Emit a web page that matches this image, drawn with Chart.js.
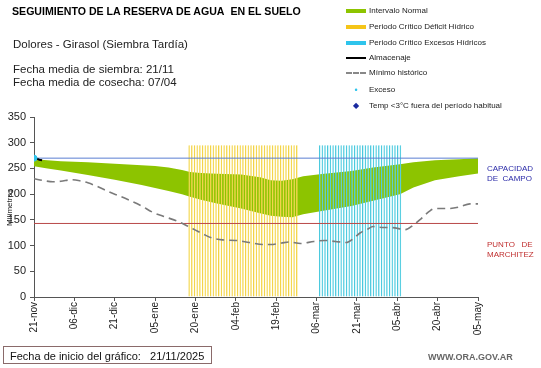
<!DOCTYPE html>
<html>
<head>
<meta charset="utf-8">
<script src="https://cdn.jsdelivr.net/npm/chart.js@4.4.1/dist/chart.umd.min.js"></script>
<style>
  html, body { margin: 0; padding: 0; background: #fff; }
  #wrap { position: relative; width: 541px; height: 368px; overflow: hidden; font-family: "Liberation Sans", Arial, sans-serif; }
  #c { position: absolute; left: 0; top: 0; }
  .t { position: absolute; white-space: nowrap; color: #111; }
  .lg { position: absolute; left: 346px; font-size: 8px; color: #222; white-space: nowrap; height: 12px; line-height: 12px; }
  .lg span.sw { display: inline-block; vertical-align: middle; width: 20px; margin-right: 3px; }
</style>
</head>
<body>
<div id="wrap">
  <canvas id="c" width="541" height="368"></canvas>
  <div class="t" style="left:12px; top:5px; font-size:10.6px; font-weight:bold; color:#000;">SEGUIMIENTO DE LA RESERVA DE AGUA&nbsp; EN EL SUELO</div>
  <div class="t" style="left:13px; top:38px; font-size:11.5px; color:#222;">Dolores - Girasol (Siembra Tardía)</div>
  <div class="t" style="left:13px; top:63px; font-size:11.5px; line-height:12.5px; color:#222;">Fecha media de siembra: 21/11<br>Fecha media de cosecha: 07/04</div>

  <div class="lg" style="top:5px;"><span class="sw" style="height:4px;background:#8DC400;"></span>Intervalo Normal</div>
  <div class="lg" style="top:21px;"><span class="sw" style="height:4px;background:#F5C518;"></span>Periodo Crítico Déficit Hídrico</div>
  <div class="lg" style="top:37px;"><span class="sw" style="height:4px;background:#2EC4EC;"></span>Periodo Crítico Excesos Hídricos</div>
  <div class="lg" style="top:52px;"><span class="sw" style="height:2px;background:#000;"></span>Almacenaje</div>
  <div class="lg" style="top:67px;"><span class="sw" style="height:0;border-top:2px dashed #888;"></span>Mínimo histórico</div>
  <div class="lg" style="top:84px;"><span class="sw" style="width:20px;text-align:center;color:#2EC4EC;font-size:9px;">•</span>Exceso</div>
  <div class="lg" style="top:100px;"><span class="sw" style="width:20px;text-align:center;color:#1A2AA0;font-size:8px;">◆</span>Temp &lt;3°C fuera del período habitual</div>

  <div class="t" style="left:5px; top:226px; font-size:8px; color:#222; transform:rotate(-90deg); transform-origin:left top;">Milímetros</div>

  <div class="t" style="left:487px; top:164px; font-size:8px; line-height:10px; color:#2A2AA8;">CAPACIDAD<br>DE&nbsp; CAMPO</div>
  <div class="t" style="left:487px; top:240px; font-size:8px; line-height:10px; color:#C03030;">PUNTO&nbsp;&nbsp; DE<br>MARCHITEZ</div>

  <div class="t" style="left:3px; top:346px; width:207px; height:18px; border:1px solid #8A6A6A; font-size:11px; line-height:18px; padding-left:6px; box-sizing:border-box; width:209px; color:#111;">Fecha de inicio del gráfico:&nbsp;&nbsp; 21/11/2025</div>
  <div class="t" style="left:428px; top:352px; font-size:9px; font-weight:bold; color:#666;">WWW.ORA.GOV.AR</div>
</div>
<script>
// ---- Data (days since 21-nov) ----
const tickLabels = ['21-nov','06-dic','21-dic','05-ene','20-ene','04-feb','19-feb','06-mar','21-mar','05-abr','20-abr','05-may'];
const bandDays  = [0,5,10,20,30,40,45,50,55,58,62,68,77,84,88,92,96,100,107,118,126,136,141,149,158,165];
const normalMax = [268,266,264,262,259,256,254.5,252,247,243,241,239.5,238,233,227,226,229,235,239,245,252,258,262,266,268,270];
const normalMin = [254,250,246,237,228,218,212,206,200,195,189,182,172,163,158,156,155,161,167,177,187,200,213,227,235,240];
const minDays = [0,4,7,10,14,17,20,24,28,32,36,40,44,48,53,57,60,63,66,70,75,80,85,88,92,95,99,104,108,112,116,119,121,124,126,130,133,138,141,144,147,149,154,158,162,165];
const minHist = [230,226,224,225,228,226,222,214,204,196,187,177,165,157,148,138,130,122,115,111,110,106,102,102,105,107,104,108,110,108,106,115,124,132,137,135,135,131,140,153,167,172,172,175,181,181];
const almDays = [0,1,2,3];
const almacenaje = [270,269,267,266];
const excesoDays = [0];
const exceso = [270];
const deficitPeriod = [58, 98];   // first and last day
const excesoPeriod = [106, 136];
const periodTop = 295;
const capacidadCampo = 270;
const puntoMarchitez = 143;
const xRange = [0, 165];

const pts = (xs, ys) => xs.map((x, i) => ({ x, y: ys[i] }));
const period = (r) => { const a = []; for (let d = r[0]; d <= r[1]; d++) a.push({ x: d, y: periodTop }); return a; };

const ctx = document.getElementById('c').getContext('2d');
new Chart(ctx, {
  type: 'line',
  data: {
    datasets: [
      { type: 'line', label: 'max', data: pts(bandDays, normalMax), borderWidth: 0, pointRadius: 0,
        backgroundColor: '#8DC400', fill: '+1', order: 10, tension: 0 },
      { type: 'line', label: 'min', data: pts(bandDays, normalMin), borderWidth: 0, pointRadius: 0,
        backgroundColor: 'transparent', fill: false, order: 10, tension: 0 },
      { type: 'bar', label: 'deficit', data: period(deficitPeriod), backgroundColor: 'rgba(252,238,150,0.35)',
        borderColor: '#F2D03C', borderWidth: { left: 1, right: 0, top: 0, bottom: 0 }, borderSkipped: false,
        barPercentage: 1, categoryPercentage: 1, order: 5 },
      { type: 'bar', label: 'excesos', data: period(excesoPeriod), backgroundColor: 'rgba(170,235,245,0.35)',
        borderColor: '#3CC4DA', borderWidth: { left: 1, right: 0, top: 0, bottom: 0 }, borderSkipped: false,
        barPercentage: 1, categoryPercentage: 1, order: 5 },
      { type: 'line', label: 'cc', data: pts(xRange, [capacidadCampo, capacidadCampo]), borderColor: '#5A7FD2',
        borderWidth: 1, pointRadius: 0, order: 3 },
      { type: 'line', label: 'pm', data: pts(xRange, [puntoMarchitez, puntoMarchitez]), borderColor: '#B84848',
        borderWidth: 1, pointRadius: 0, order: 3 },
      { type: 'line', label: 'Mínimo histórico', data: pts(minDays, minHist), borderColor: '#7A7A7A',
        borderWidth: 1.6, borderDash: [8, 5], pointRadius: 0, tension: 0.3, cubicInterpolationMode: 'monotone', order: 2 },
      { type: 'line', label: 'Almacenaje', data: pts(almDays, almacenaje), borderColor: '#000',
        borderWidth: 2, pointRadius: 0, order: 1 },
      { type: 'line', label: 'Exceso', data: pts(excesoDays, exceso), showLine: false, pointRadius: 3,
        pointBackgroundColor: '#2EC4EC', pointBorderColor: '#2EC4EC', order: 0 }
    ]
  },
  options: {
    responsive: false,
    animation: false,
    events: [],
    layout: { padding: { left: 0, top: 117, right: 63, bottom: 31 } },
    plugins: { legend: { display: false }, tooltip: { enabled: false } },
    scales: {
      x: {
        type: 'linear', min: xRange[0], max: xRange[1], offset: false,
        grid: { display: true, drawOnChartArea: false, drawTicks: true, tickLength: 4, color: '#555', offset: false },
        border: { display: true, color: '#555', width: 1 },
        ticks: { stepSize: 15, autoSkip: false, minRotation: 90, maxRotation: 90, padding: 1, color: '#222',
          font: { family: 'Liberation Sans', size: 10 },
          callback: (v) => tickLabels[Math.round(v / 15)] },
        afterFit: (s) => { s.height = 40; }
      },
      y: {
        min: 0, max: 350,
        grid: { display: true, drawOnChartArea: false, drawTicks: true, tickLength: 4, color: '#555' },
        border: { display: true, color: '#555', width: 1 },
        ticks: { stepSize: 50, padding: 4, color: '#222', font: { family: 'Liberation Sans', size: 11 } },
        afterFit: (s) => { s.width = 34; }
      }
    }
  }
});
</script>
</body>
</html>
